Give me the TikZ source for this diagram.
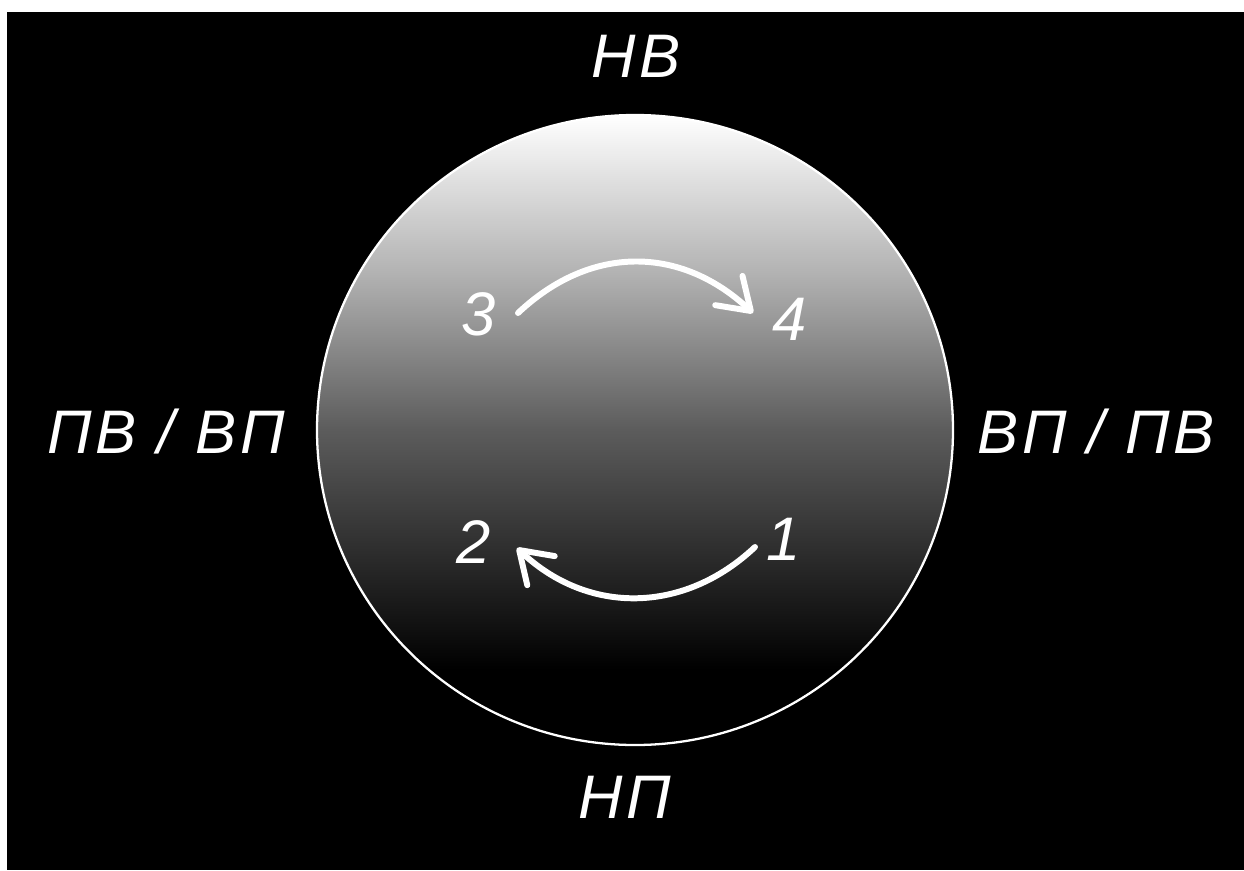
\documentclass[tikz,border=0pt]{standalone}
\usepackage{fontspec}
\newfontfamily\gost[LetterSpace=6]{Liberation Sans}
\usetikzlibrary{arrows.meta}
\pgfdeclareverticalshading{discshade}{100bp}{color(0bp)=(black); color(25bp)=(black); color(31bp)=(black); color(50bp)=(black!64); color(62.5bp)=(black!30); color(75bp)=(white); color(100bp)=(white)}
\tikzset{
  lbl/.style={text=white, font=\gost\itshape\fontsize{35}{40}\selectfont, inner sep=0pt, anchor=base},
  turn/.style={draw=white, line width=3.4pt, line cap=round,
    -{Straight Barb[length=6mm, width=8mm, round]}},
}
\begin{document}
\begin{tikzpicture}[x=0.02cm, y=-0.02cm]
\useasboundingbox (0,0) rectangle (1244,870);
\fill[white] (0,0) rectangle (1244,870);
\fill[black] (7,12) rectangle (1244,870);
\shade[shading=discshade] (635,430) ellipse [x radius=318, y radius=315];
\draw[white, line width=1.3pt] (635,430) ellipse [x radius=318, y radius=315];
\node[lbl] (nv) at (636,77) {НВ};
\node[lbl] (np) at (625,818) {НП};
\node[lbl] (left) at (166,453) {ПВ / ВП};
\node[lbl] (right) at (1096,453) {ВП / ПВ};
\node[lbl] (n3) at (479,335) {3};
\node[lbl] (n4) at (790,340) {4};
\node[lbl] (n2) at (474,563) {2};
\node[lbl] (n1) at (784,560) {1};
\coordinate (s34) at (518,313);
\coordinate (e34) at (753,313);
\coordinate (s12) at (755,547);
\coordinate (e12) at (517,548);
\draw[turn] (s34) .. controls (590,245) and (680,245) .. (e34);
\draw[turn] (s12) .. controls (684,614) and (588,615) .. (e12);
\end{tikzpicture}
\end{document}
